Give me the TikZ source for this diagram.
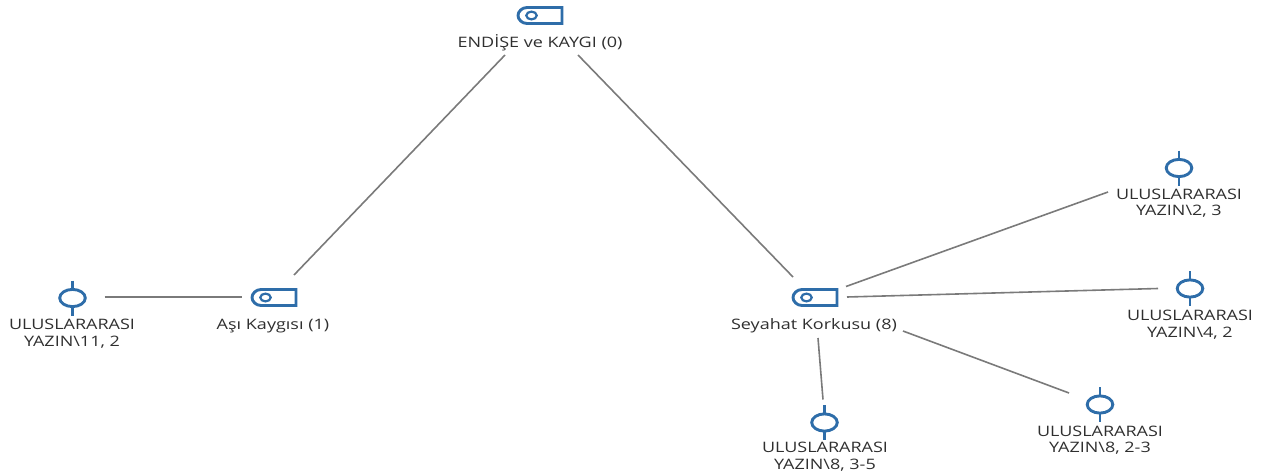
\documentclass[tikz,border=0pt]{standalone}
\usepackage{fontspec}
\setmainfont[FakeStretch=1.25]{Open Sans}
\usetikzlibrary{calc}
\definecolor{iconblue}{HTML}{2E6DA9}
\definecolor{linegray}{HTML}{7A7A7A}
\definecolor{labelgray}{HTML}{2F2F2F}
\tikzset{
  x=1pt,y=-1pt,
  anchorbox/.style={inner sep=0pt,outer sep=0pt,minimum size=1pt},
  lbl/.style={inner sep=0pt,outer sep=0pt,align=center,text=labelgray,font=\fontsize{14.4}{16.5}\selectfont},
  conn/.style={draw=linegray,line width=1.6pt},
  iconline/.style={draw=iconblue,line width=2.9pt},
  pics/tagicon/.style={code={
    \draw[iconline,line join=miter] (22,-8) -- (-13,-8) .. controls (-18,-8) and (-22,-4) .. (-22,0) .. controls (-22,4) and (-18,8) .. (-13,8) -- (22,8) -- cycle;
    \draw[iconline,line width=2.2pt] (-8.5,0) ellipse [x radius=5.2,y radius=3.9];
  }},
  pics/stemicon/.style={code={
    \draw[iconline] (0,-17.5) -- (0,-8) (0,8) -- (0,17.5);
    \draw[iconline] (0,0) ellipse [x radius=12.8,y radius=8.6];
  }}
}
\begin{document}
\begin{tikzpicture}
\useasboundingbox (0,0) rectangle (1266,471);
% icon anchors
\node[anchorbox] (n0) at (540,15.5) {};
\node[anchorbox] (n1) at (274,297.5) {};
\node[anchorbox] (n8) at (815,297.5) {};
\node[anchorbox] (q11) at (72.5,298) {};
\node[anchorbox] (q83) at (824.5,422.5) {};
\node[anchorbox] (q82) at (1100,404.5) {};
\node[anchorbox] (q2) at (1179,168) {};
\node[anchorbox] (q4) at (1190,288.5) {};
\pic at (n0) {tagicon};
\pic at (n1) {tagicon};
\pic at (n8) {tagicon};
\pic at (q11) {stemicon};
\pic at (q83) {stemicon};
\pic at (q82) {stemicon};
\pic at (q2) {stemicon};
\pic at (q4) {stemicon};
% labels
\node[lbl] (l0) at (540,42.5) {ENDİŞE ve KAYGI (0)};
\node[lbl] (l1) at (273,326) {Aşı Kaygısı (1)};
\node[lbl] (l8) at (814,326) {Seyahat Korkusu (8)};
\node[lbl] (l11) at (72,333.5) {ULUSLARARASI\\YAZIN\textbackslash 11, 2};
\node[lbl] (l83) at (825,456.5) {ULUSLARARASI\\YAZIN\textbackslash 8, 3-5};
\node[lbl] (l82) at (1100,440) {ULUSLARARASI\\YAZIN\textbackslash 8, 2-3};
\node[lbl] (l2) at (1179,203) {ULUSLARARASI\\YAZIN\textbackslash 2, 3};
\node[lbl] (l4) at (1190,324.5) {ULUSLARARASI\\YAZIN\textbackslash 4, 2};
% connectors
\draw[conn] ($(n0)+(-35,39.5)$) -- ($(n1)+(20,-22.5)$);
\draw[conn] ($(n0)+(38,39.5)$) -- ($(n8)+(-22,-20.5)$);
\draw[conn] ($(q11)+(32,-1)$) -- ($(n1)+(-32,-0.5)$);
\draw[conn] ($(n8)+(31,-11)$) -- ($(q2)+(-71,24)$);
\draw[conn] ($(n8)+(32,-0.5)$) -- ($(q4)+(-32,0)$);
\draw[conn] ($(n8)+(88,33.5)$) -- ($(q82)+(-31,-11.5)$);
\draw[conn] ($(n8)+(3,40.5)$) -- ($(q83)+(-1.5,-23)$);
\end{tikzpicture}
\end{document}
